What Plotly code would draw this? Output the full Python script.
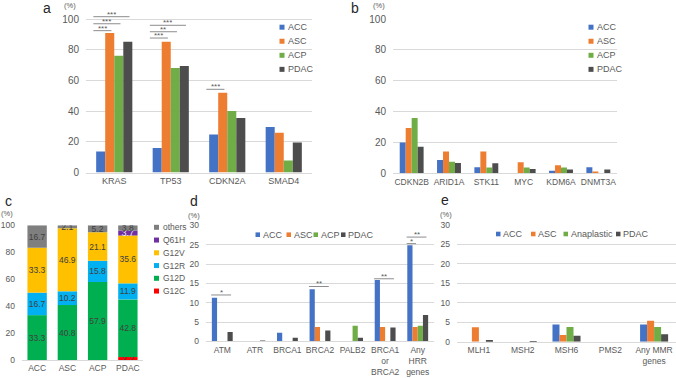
import plotly.graph_objects as go

W, H = 676, 378

# ---------------- data ----------------
SERIES = ["ACC", "ASC", "ACP", "PDAC"]
SERIES_E = ["ACC", "ASC", "Anaplastic", "PDAC"]
COLORS = ["#4472C4", "#ED7D31", "#70AD47", "#4D4D4D"]

# panel a
genes_a = ["KRAS", "TP53", "CDKN2A", "SMAD4"]
a_acc = [13.7, 15.9, 24.8, 29.6]
a_asc = [90.8, 85.2, 51.9, 25.9]
a_acp = [76.0, 68.0, 40.1, 7.8]
a_pdac = [85.2, 69.3, 35.5, 19.6]

# panel b
genes_b = ["CDKN2B", "ARID1A", "STK11", "MYC", "KDM6A", "DNMT3A"]
b_acc = [20.0, 8.6, 3.9, 0, 1.7, 3.9]
b_asc = [29.3, 14.2, 14.2, 7.1, 5.2, 1.1]
b_acp = [35.8, 7.5, 3.7, 3.7, 3.7, 0]
b_pdac = [17.2, 6.7, 6.5, 2.8, 2.4, 2.4]

# panel c (KRAS variants, stacked)
groups_c = ["ACC", "ASC", "ACP", "PDAC"]
variants_c = ["G12C", "G12D", "G12R", "G12V", "Q61H", "others"]
c_g12c = [0, 0, 0, 2.2]
c_g12d = [33.3, 40.8, 57.9, 42.8]
c_g12r = [16.7, 10.2, 15.8, 11.9]
c_g12v = [33.3, 46.9, 21.1, 35.6]
c_q61h = [0, 0, 0, 3.7]
c_others = [16.7, 2.1, 5.2, 3.8]
c_colors = ["#FF0000", "#00B050", "#00B0F0", "#FFC000", "#7030A0", "#7F7F7F"]
c_textcolors = ["#404040", "#404040", "#404040", "#404040", "#F2F2F2", "#404040"]

# panel d (HRR genes)
genes_d = ["ATM", "ATR", "BRCA1", "BRCA2", "PALB2", "BRCA1<br>or<br>BRCA2", "Any<br>HRR<br>genes"]
d_acc = [11.3, 0, 2.2, 13.5, 0, 15.9, 24.9]
d_asc = [0, 0, 0, 3.7, 0, 3.7, 3.7]
d_acp = [0, 0, 0, 0, 4.0, 0, 4.0]
d_pdac = [2.4, 0.2, 0.9, 2.8, 0.9, 3.6, 6.8]

# panel e (MMR genes)
genes_e = ["MLH1", "MSH2", "MSH6", "PMS2", "Any MMR<br>genes"]
e_acc = [0, 0, 4.4, 0, 4.4]
e_asc = [3.7, 0, 1.7, 0, 5.4]
e_acp = [0, 0, 3.8, 0, 3.8]
e_pdac = [0.4, 0.1, 1.5, 0, 1.9]

# significance: (category index, from series, to series, level, label)
sig_a = [(0, 0, 3, 101.5, "***"), (0, 0, 2, 96.9, "***"), (0, 0, 1, 92.4, "***"),
         (1, 0, 3, 95.9, "***"), (1, 0, 2, 91.7, "**"), (1, 0, 1, 87.6, "***"),
         (2, 0, 1, 54.2, "***")]
sig_d = [(0, 0, 3, 12.0, "*"), (3, 0, 3, 14.2, "**"), (5, 0, 3, 16.2, "**"),
         (6, 0, 1, 25.3, "*"), (6, 0, 3, 27.0, "**")]

# ---------------- layout helpers ----------------
FONT = "Liberation Sans, Arial, sans-serif"
TXT = "#595959"
GRID = "#D9D9D9"
BARGAP = 0.36


def px(x):
    return x / W


def py(y):
    return 1 - y / H


fig = go.Figure()


def add_group(xname, yname, cats, vals_list, names):
    for i, (vals, nm) in enumerate(zip(vals_list, names)):
        fig.add_trace(go.Bar(x=cats, y=vals, name=nm, marker_color=COLORS[i],
                             marker_line_width=0, xaxis=xname, yaxis=yname,
                             offsetgroup=f"{xname}_{i}", showlegend=False))


add_group("x", "y", genes_a, [a_acc, a_asc, a_acp, a_pdac], SERIES)
add_group("x2", "y2", genes_b, [b_acc, b_asc, b_acp, b_pdac], SERIES)
add_group("x4", "y4", genes_d, [d_acc, d_asc, d_acp, d_pdac], SERIES)
add_group("x5", "y5", genes_e, [e_acc, e_asc, e_acp, e_pdac], SERIES_E)

# stacked panel c via explicit bases
c_vals = [c_g12c, c_g12d, c_g12r, c_g12v, c_q61h, c_others]
base = [0.0] * len(groups_c)
for vals, nm, col, tcol in zip(c_vals, variants_c, c_colors, c_textcolors):
    fig.add_trace(go.Bar(x=groups_c, y=vals, base=list(base), name=nm,
                         marker_color=col, marker_line_width=0,
                         xaxis="x3", yaxis="y3", offsetgroup="c", showlegend=False,
                         text=[f"{v:.1f}" if v > 0 else "" for v in vals],
                         textposition="inside", insidetextanchor="middle",
                         constraintext="none", textangle=0,
                         textfont=dict(family=FONT, size=8.5, color=tcol)))
    base = [b + v for b, v in zip(base, vals)]


def xax(d0, d1, size):
    return dict(domain=[px(d0), px(d1)], type="category", showgrid=False,
                showline=True, linecolor=GRID, linewidth=1, ticks="", automargin=False,
                tickfont=dict(family=FONT, size=size, color=TXT), fixedrange=True)


def yax(xname, y0px, ytop_px, rng, dtick, size, grid=True):
    return dict(domain=[py(y0px), py(ytop_px)], range=rng, dtick=dtick, tick0=0,
                showgrid=grid, gridcolor=GRID, gridwidth=1, zeroline=False,
                showline=False, ticks="", anchor=xname, ticklabelstandoff=6,
                automargin=False,
                tickfont=dict(family=FONT, size=size, color=TXT), fixedrange=True)


fig.update_layout(
    width=W, height=H, margin=dict(l=0, r=0, t=0, b=0, autoexpand=False),
    paper_bgcolor="white", plot_bgcolor="white",
    barmode="group", bargap=BARGAP, bargroupgap=0,
    font=dict(family=FONT, color=TXT),
    xaxis=dict(xax(86, 312, 9), anchor="y"),
    yaxis=yax("x", 172.5, 172.5 - 106 * 1.535, [0, 106], 20, 10),
    xaxis2=dict(xax(393, 617, 8.5), anchor="y2"),
    yaxis2=yax("x2", 173.3, 19, [0, 100], 20, 10),
    xaxis3=dict(xax(22, 143, 8.5), anchor="y3"),
    yaxis3=yax("x3", 360, 225.3, [0, 100], 20, 8.5, grid=False),
    xaxis4=dict(xax(206, 434, 8.5), anchor="y4"),
    yaxis4=yax("x4", 341.3, 225.5, [0, 30], 5, 8.5),
    xaxis5=dict(xax(457, 676, 8.5), anchor="y5"),
    yaxis5=yax("x5", 341.7, 225, [0, 30], 5, 8.5),
)

shapes = []
annots = []

# significance bars
group_w = 1 - BARGAP
bar_w = group_w / 4


def center(k):
    return -group_w / 2 + bar_w * (k + 0.5)


def add_sig(sigs, xr, yr, start_pad, end_pad):
    for cat, s0, s1, lvl, lab in sigs:
        x0 = cat + center(s0) - bar_w / 2 - start_pad
        x1 = cat + center(s1) + end_pad
        shapes.append(dict(type="line", xref=xr, yref=yr, x0=x0, x1=x1, y0=lvl, y1=lvl,
                           line=dict(color="#8C8C8C", width=1)))
        annots.append(dict(xref=xr, yref=yr, x=(x0 + x1) / 2, y=lvl, text=lab,
                           showarrow=False, yanchor="bottom", yshift=-4,
                           font=dict(family=FONT, size=8, color=TXT)))


add_sig(sig_a, "x", "y", 0.05, 0.03)
add_sig(sig_d, "x4", "y4", 0.02, 0.03)


# manual legends
def legend_vertical(names, colors, sq_x, y0, dy, size):
    for i, (nm, col) in enumerate(zip(names, colors)):
        yc = y0 + dy * i
        shapes.append(dict(type="rect", xref="paper", yref="paper",
                           x0=px(sq_x), x1=px(sq_x + 5), y0=py(yc - 2.5), y1=py(yc + 2.5),
                           fillcolor=col, line=dict(width=0)))
        annots.append(dict(xref="paper", yref="paper", x=px(sq_x + 6.5), y=py(yc), text=nm,
                           showarrow=False, xanchor="left", yanchor="middle",
                           font=dict(family=FONT, size=size, color=TXT)))


def legend_horizontal(names, colors, xs, yc, size):
    for nm, col, sx in zip(names, colors, xs):
        shapes.append(dict(type="rect", xref="paper", yref="paper",
                           x0=px(sx), x1=px(sx + 4.5), y0=py(yc - 2.3), y1=py(yc + 2.3),
                           fillcolor=col, line=dict(width=0)))
        annots.append(dict(xref="paper", yref="paper", x=px(sx + 5), y=py(yc), text=nm,
                           showarrow=False, xanchor="left", yanchor="middle",
                           font=dict(family=FONT, size=size, color=TXT)))


legend_vertical(SERIES, COLORS, 279.5, 27.2, 14.05, 9)
legend_vertical(SERIES, COLORS, 588.5, 27.2, 14.05, 9)
legend_vertical(variants_c[::-1], c_colors[::-1], 154, 227.3, 12.75, 8.5)
legend_horizontal(SERIES, COLORS, [255.5, 286.5, 313.5, 341], 234.7, 9)
legend_horizontal(SERIES_E, COLORS, [496, 531, 563.5, 616], 234, 9)

# panel letters and unit labels
for letter, lx, ly in [("a", 47, 8), ("b", 355, 8), ("c", 8, 201), ("d", 194, 201), ("e", 444.5, 200)]:
    annots.append(dict(xref="paper", yref="paper", x=px(lx), y=py(ly), text=letter,
                       showarrow=False, xanchor="center", yanchor="middle",
                       font=dict(family=FONT, size=14, color="#262626")))
for ux, uy in [(70, 5), (379, 5.5), (7, 213), (193.5, 215), (446, 214)]:
    annots.append(dict(xref="paper", yref="paper", x=px(ux), y=py(uy), text="(%)",
                       showarrow=False, xanchor="center", yanchor="middle",
                       font=dict(family=FONT, size=7.5, color=TXT)))

fig.update_layout(shapes=shapes, annotations=annots)
fig.write_html("out.html", config={"displayModeBar": False},
               post_script="document.body.style.margin='0';document.body.style.overflow='hidden';")
